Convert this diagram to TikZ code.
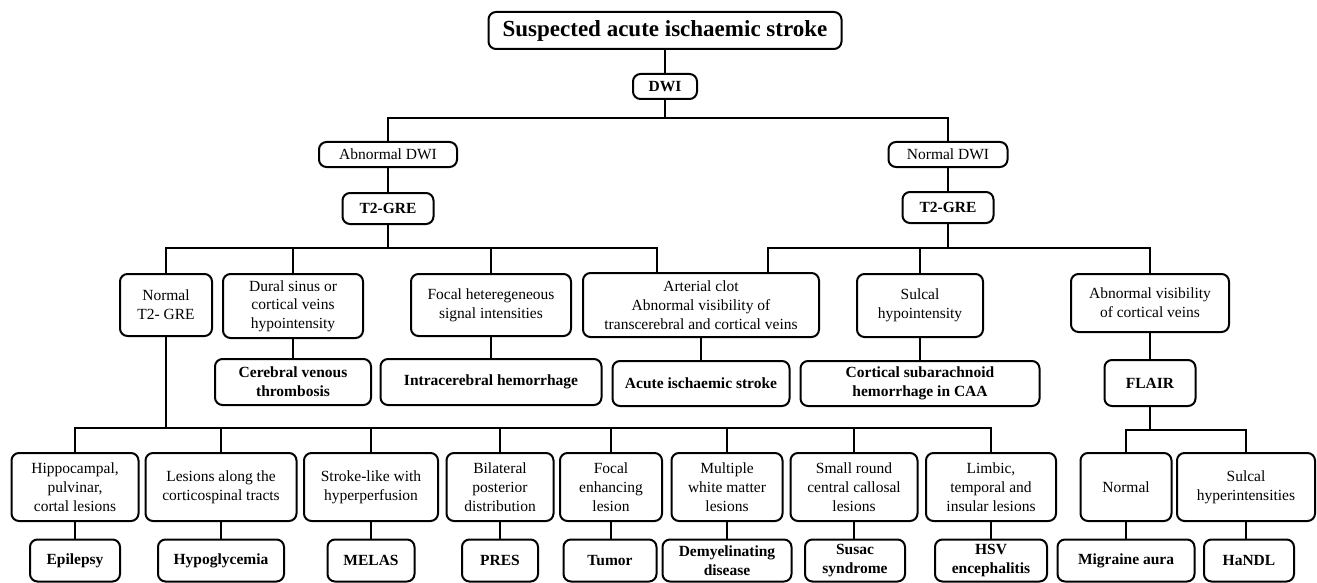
\documentclass[tikz,border=0pt]{standalone}
\usepackage{fontspec}
\setmainfont{Liberation Serif}
\begin{document}
\begin{tikzpicture}[x=1pt,y=-1pt,
  box/.style={draw=black, line width=2pt, rounded corners=7.5pt, align=center, inner sep=0pt,
    font=\fontsize{15.5}{18.7}\selectfont},
  bbox/.style={box, font=\fontsize{15.5}{18.7}\selectfont\bfseries},
  conn/.style={draw=black, line width=2pt}]
\useasboundingbox[fill=white] (0,0) rectangle (1317,583);
% top
\node[bbox, minimum width=353pt, minimum height=37pt, font=\fontsize{23}{26}\selectfont\bfseries] (title) at (665,30.5) {Suspected acute ischaemic stroke};
\node[bbox, minimum width=64pt, minimum height=25pt] (dwi) at (665,86.5) {DWI};
\node[box, minimum width=138pt, minimum height=25pt] (absdwi) at (388,154.5) {Abnormal DWI};
\node[box, minimum width=119pt, minimum height=25pt] (normdwi) at (948,154.5) {Normal DWI};
\node[bbox, minimum width=91pt, minimum height=31pt] (t2l) at (388,208.5) {T2-GRE};
\node[bbox, minimum width=91pt, minimum height=31pt] (t2r) at (948,207.5) {T2-GRE};
% row 5
\node[box, minimum width=92pt, minimum height=62pt] (nt2) at (166,305) {Normal\\T2- GRE};
\node[box, minimum width=140pt, minimum height=64pt] (dural) at (293,306) {Dural sinus or\\cortical veins\\hypointensity};
\node[box, minimum width=160pt, minimum height=62pt] (focal) at (491,305) {Focal heteregeneous\\signal intensities};
\node[box, minimum width=236pt, minimum height=64pt] (art) at (701,305) {Arterial clot\\Abnormal visibility of\\transcerebral and cortical veins};
\node[box, minimum width=126pt, minimum height=63pt] (sulcal) at (920,305.5) {Sulcal\\hypointensity};
\node[box, minimum width=158pt, minimum height=58pt] (absvis) at (1150,303) {Abnormal visibility\\of cortical veins};
% row 6
\node[bbox, minimum width=156pt, minimum height=46pt] (cvt) at (293,382) {Cerebral venous\\thrombosis};
\node[bbox, minimum width=221pt, minimum height=46pt] (ich) at (491,382) {Intracerebral hemorrhage};
\node[bbox, minimum width=177pt, minimum height=45pt] (ais) at (701,383.5) {Acute ischaemic stroke};
\node[bbox, minimum width=239pt, minimum height=45pt] (csah) at (920,383.5) {Cortical subarachnoid\\hemorrhage in CAA};
\node[bbox, minimum width=91pt, minimum height=46pt] (flair) at (1150,383) {FLAIR};
% row 7
\node[box, minimum width=127pt, minimum height=68pt] (hip) at (75,487) {Hippocampal,\\pulvinar,\\cortal lesions};
\node[box, minimum width=151pt, minimum height=68pt] (les) at (221,487) {Lesions along the\\corticospinal tracts};
\node[box, minimum width=134pt, minimum height=68pt] (strk) at (371,487) {Stroke-like with\\hyperperfusion};
\node[box, minimum width=107pt, minimum height=68pt] (bil) at (500,487) {Bilateral\\posterior\\distribution};
\node[box, minimum width=102pt, minimum height=68pt] (foc) at (611,487) {Focal\\enhancing\\lesion};
\node[box, minimum width=111pt, minimum height=68pt] (mwm) at (727,487) {Multiple\\white matter\\lesions};
\node[box, minimum width=127pt, minimum height=68pt] (src) at (854,487) {Small round\\central callosal\\lesions};
\node[box, minimum width=130pt, minimum height=68pt] (lim) at (991,487) {Limbic,\\temporal and\\insular lesions};
\node[box, minimum width=91pt, minimum height=68pt] (nrm) at (1126,487) {Normal};
\node[box, minimum width=138pt, minimum height=68pt] (shi) at (1246,487) {Sulcal\\hyperintensities};
% row 8
\node[bbox, minimum width=90pt, minimum height=42pt] (epi) at (75,560.5) {Epilepsy};
\node[bbox, minimum width=126pt, minimum height=42pt] (hypo) at (221,560.5) {Hypoglycemia};
\node[bbox, minimum width=87pt, minimum height=42pt] (melas) at (371,560.5) {MELAS};
\node[bbox, minimum width=76pt, minimum height=42pt] (pres) at (500,560.5) {PRES};
\node[bbox, minimum width=93pt, minimum height=42pt] (tum) at (610,560.5) {Tumor};
\node[bbox, minimum width=129pt, minimum height=42pt] (dem) at (727,560.5) {Demyelinating\\disease};
\node[bbox, minimum width=100pt, minimum height=42pt] (sus) at (855,560.5) {Susac\\syndrome};
\node[bbox, minimum width=112pt, minimum height=42pt] (hsv) at (991,560.5) {HSV\\encephalitis};
\node[bbox, minimum width=137pt, minimum height=42pt] (mig) at (1126,560.5) {Migraine aura};
\node[bbox, minimum width=90pt, minimum height=42pt] (handl) at (1249,560.5) {HaNDL};
% bus coordinates
\coordinate (b1) at (665,118);
\coordinate (b2) at (388,248);
\coordinate (b3) at (948,248);
\coordinate (b4) at (166,428);
\coordinate (b5) at (1150,430);
% connectors
\path[conn] (title.south) -- (title.south |- dwi.north);
\path[conn] (dwi.south) -- (b1);
\path[conn] (absdwi.north) |- (b1) -| (normdwi.north);
\path[conn] (absdwi.south) -- (absdwi.south |- t2l.north);
\path[conn] (normdwi.south) -- (normdwi.south |- t2r.north);
\path[conn] (t2l.south) -- (b2);
\path[conn] (nt2.north) |- (b2) -| ([xshift=-44pt]art.north);
\path[conn] (dural.north) -- (dural.north |- b2);
\path[conn] (focal.north) -- (focal.north |- b2);
\path[conn] (t2r.south) -- (b3);
\path[conn] ([xshift=67pt]art.north) |- (b3) -| (absvis.north);
\path[conn] (sulcal.north) -- (sulcal.north |- b3);
\path[conn] (dural.south) -- (dural.south |- cvt.north);
\path[conn] (focal.south) -- (focal.south |- ich.north);
\path[conn] (art.south) -- (art.south |- ais.north);
\path[conn] (sulcal.south) -- (sulcal.south |- csah.north);
\path[conn] (absvis.south) -- (absvis.south |- flair.north);
\path[conn] (nt2.south) -- (b4);
\path[conn] (hip.north) |- (b4) -| (lim.north);
\path[conn] (les.north) -- (les.north |- b4);
\path[conn] (strk.north) -- (strk.north |- b4);
\path[conn] (bil.north) -- (bil.north |- b4);
\path[conn] (foc.north) -- (foc.north |- b4);
\path[conn] (mwm.north) -- (mwm.north |- b4);
\path[conn] (src.north) -- (src.north |- b4);
\path[conn] (flair.south) -- (b5);
\path[conn] (nrm.north) |- (b5) -| (shi.north);
\path[conn] (hip.south) -- (hip.south |- epi.north);
\path[conn] (les.south) -- (les.south |- hypo.north);
\path[conn] (strk.south) -- (strk.south |- melas.north);
\path[conn] (bil.south) -- (bil.south |- pres.north);
\path[conn] (foc.south) -- (foc.south |- tum.north);
\path[conn] (mwm.south) -- (mwm.south |- dem.north);
\path[conn] (src.south) -- (src.south |- sus.north);
\path[conn] (lim.south) -- (lim.south |- hsv.north);
\path[conn] (nrm.south) -- (nrm.south |- mig.north);
\path[conn] (shi.south) -- (shi.south |- handl.north);
\end{tikzpicture}
\end{document}
